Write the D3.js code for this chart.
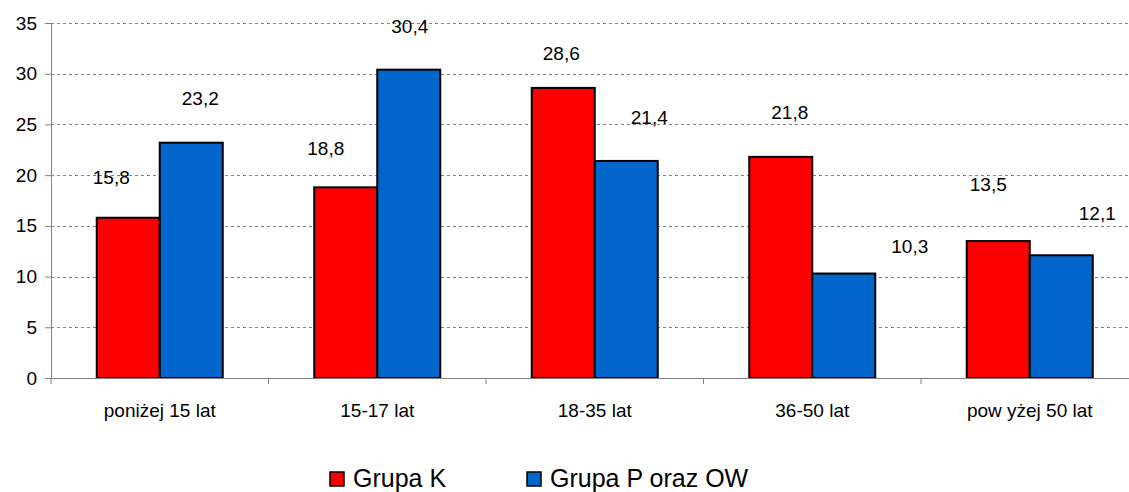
<!DOCTYPE html>
<html><head><meta charset="utf-8">
<script src="https://cdn.jsdelivr.net/npm/d3@7"></script>
<style>body{margin:0;background:#fff;} svg{display:block;font-family:"Liberation Sans",Arial,sans-serif;}</style>
</head><body>
<svg id="c" width="1129" height="492"></svg>
<script>
const categories = ["poniżej 15 lat","15-17 lat","18-35 lat","36-50 lat","pow yżej 50 lat"];
const seriesNames = ["Grupa K","Grupa P oraz OW"];
const grupaK = [15.8, 18.8, 28.6, 21.8, 13.5];
const grupaP = [23.2, 30.4, 21.4, 10.3, 12.1];
const yTicks = [0,5,10,15,20,25,30,35];
// manual label placement offsets (layout only, px)
const labelDxK = [-17, -20, -2, 9, -10];
const labelDyK = [-40, -39, -34, -44, -57];
const labelDxP = [9, 1, 23, 66, 36];
const labelDyP = [-44, -43, -43, -27, -42];
const colors = ["#FF0000", "#0066CC"];

(function(){
const svg = d3.select("#c");
const mLeft = 51, mRight = 1138.5, mTop = 23, mBottom = 378;
const x = d3.scaleBand().domain(categories).range([mLeft, mRight]).paddingInner(0).paddingOuter(0);
const y = d3.scaleLinear().domain([0,35]).range([mBottom, mTop]);
const barW = 63;

// gridlines
svg.append("g").selectAll("line").data(yTicks.filter(d=>d>0)).join("line")
  .attr("x1", mLeft).attr("x2", mRight)
  .attr("y1", d=>Math.round(y(d))+0.5).attr("y2", d=>Math.round(y(d))+0.5)
  .attr("stroke", "#808080").attr("stroke-width", 1).attr("stroke-dasharray", "3,3");

// y axis
const yAxis = d3.axisLeft(y).tickValues(yTicks).tickSize(6).tickPadding(8).tickFormat(d3.format("d"));
const gy = svg.append("g").attr("transform", `translate(${mLeft},0)`).call(yAxis);
gy.select(".domain").attr("stroke","#808080");
gy.selectAll(".tick line").attr("stroke","#808080");
gy.selectAll("text").attr("font-size", 19).attr("fill","#000").attr("font-family","Liberation Sans, Arial, sans-serif");

// bars
const data = categories.map((c,i)=>({c, v:[grupaK[i], grupaP[i]]}));
const g = svg.append("g");
data.forEach((d,i)=>{
  d.v.forEach((v,s)=>{
    const cx = x(d.c) + x.bandwidth()/2 + (s===0 ? -barW/2 : barW/2);
    g.append("rect")
      .attr("x", cx - barW/2).attr("width", barW)
      .attr("y", y(v)).attr("height", y(0)-y(v))
      .attr("fill", colors[s]).attr("stroke","#000").attr("stroke-width",2);
    const dx = s===0 ? labelDxK[i] : labelDxP[i];
    const dy = s===0 ? labelDyK[i] : labelDyP[i];
    g.append("text").attr("x", cx + dx).attr("y", y(v) + dy)
      .attr("text-anchor","middle").attr("dominant-baseline","central")
      .attr("font-size", 19).attr("fill","#000")
      .text(String(v.toFixed(1)).replace(".", ","));
  });
});

// x axis
const xAxis = d3.axisBottom(x).tickSize(0).tickPadding(26);
const gx = svg.append("g").attr("transform", `translate(0,${mBottom})`).call(xAxis);
gx.select(".domain").attr("stroke","#808080");
gx.selectAll("text").attr("font-size", 19).attr("fill","#000").attr("font-family","Liberation Sans, Arial, sans-serif");
gx.append("g").selectAll("line").data(categories.slice(1)).join("line")
  .attr("x1", d=>x(d)).attr("x2", d=>x(d)).attr("y1",0).attr("y2",6).attr("stroke","#808080");
gx.append("line").attr("x1", mLeft).attr("x2", mLeft).attr("y1",0).attr("y2",6).attr("stroke","#808080");

// legend
const legX = [330, 527];
const leg = svg.append("g");
seriesNames.forEach((n,s)=>{
  leg.append("rect").attr("x", legX[s]).attr("y", 472).attr("width", 14).attr("height", 14)
    .attr("fill", colors[s]).attr("stroke","#000").attr("stroke-width",1.5);
  leg.append("text").attr("x", legX[s] + 23).attr("y", 487).attr("font-size", 25).attr("fill","#000").text(n);
});
})();
</script>
</body></html>
